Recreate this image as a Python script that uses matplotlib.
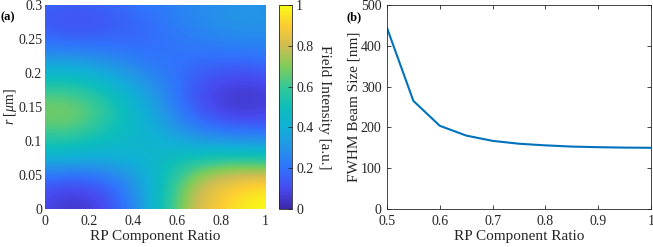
import numpy as np
import matplotlib.pyplot as plt
from matplotlib.colors import LinearSegmentedColormap

plt.rcParams['font.family'] = ['Liberation Serif', 'DejaVu Serif']
plt.rcParams['mathtext.fontset'] = 'custom'
plt.rcParams['mathtext.rm'] = 'Liberation Serif'
plt.rcParams['mathtext.it'] = 'Liberation Serif:italic'

# (a) field intensity at grid points
rp_ratio = [0.0, 0.1, 0.2, 0.3, 0.4, 0.5, 0.6, 0.7, 0.8, 0.9, 1.0]
r_um = [0.0, 0.025, 0.05, 0.075, 0.1, 0.125, 0.15, 0.175, 0.2, 0.225, 0.25, 0.275, 0.3]
# one row per r value, one column per RP ratio
intensity = [
    [0.09, 0.05, 0.06, 0.12, 0.25, 0.45, 0.66, 0.83, 0.90, 0.97, 1.00],
    [0.11, 0.08, 0.09, 0.15, 0.27, 0.45, 0.64, 0.81, 0.88, 0.94, 0.97],
    [0.21, 0.20, 0.20, 0.25, 0.33, 0.45, 0.58, 0.72, 0.78, 0.81, 0.81],
    [0.41, 0.41, 0.39, 0.40, 0.42, 0.45, 0.50, 0.52, 0.55, 0.55, 0.54],
    [0.55, 0.55, 0.51, 0.47, 0.44, 0.42, 0.38, 0.33, 0.31, 0.30, 0.29],
    [0.66, 0.67, 0.62, 0.54, 0.46, 0.38, 0.28, 0.20, 0.15, 0.13, 0.13],
    [0.69, 0.68, 0.64, 0.55, 0.44, 0.34, 0.22, 0.12, 0.07, 0.05, 0.07],
    [0.59, 0.59, 0.55, 0.47, 0.38, 0.30, 0.20, 0.12, 0.08, 0.06, 0.08],
    [0.44, 0.44, 0.41, 0.36, 0.30, 0.24, 0.20, 0.15, 0.13, 0.12, 0.14],
    [0.29, 0.28, 0.27, 0.25, 0.22, 0.20, 0.20, 0.20, 0.20, 0.20, 0.22],
    [0.18, 0.16, 0.16, 0.17, 0.17, 0.19, 0.22, 0.24, 0.26, 0.27, 0.27],
    [0.14, 0.12, 0.12, 0.14, 0.17, 0.20, 0.24, 0.27, 0.30, 0.31, 0.30],
    [0.17, 0.15, 0.16, 0.17, 0.20, 0.22, 0.25, 0.27, 0.29, 0.30, 0.30],
]

# (b) FWHM beam size
fwhm_ratio = [0.5, 0.55, 0.6, 0.65, 0.7, 0.75, 0.8, 0.85, 0.9, 0.95, 1.0]
fwhm_nm = [444, 265, 204, 180, 167, 160, 156, 153, 151.5, 150.5, 150]

parula = LinearSegmentedColormap.from_list('parula', [
    (0.2422, 0.1504, 0.6603), (0.2800, 0.2900, 0.9400), (0.1900, 0.4500, 0.9900),
    (0.1400, 0.5800, 0.9100), (0.0650, 0.6900, 0.8400), (0.0500, 0.7450, 0.7300),
    (0.2100, 0.7850, 0.5900), (0.5000, 0.8000, 0.3500), (0.8100, 0.7400, 0.3200),
    (0.9900, 0.8000, 0.2000), (0.9769, 0.9839, 0.0805)])

dark = (0.15, 0.15, 0.15)
fig = plt.figure(figsize=(6.53, 2.47), dpi=100)

ax1 = fig.add_axes([0.0689, 0.1538, 0.337, 0.826])
dx = (rp_ratio[1] - rp_ratio[0]) / 2
dy = (r_um[1] - r_um[0]) / 2
im = ax1.imshow(np.array(intensity), origin='lower', aspect='auto', cmap=parula,
                vmin=0, vmax=1, interpolation='bicubic',
                extent=[rp_ratio[0] - dx, rp_ratio[-1] + dx, r_um[0] - dy, r_um[-1] + dy])
ax1.set_xlim(0, 1)
ax1.set_ylim(0, 0.3)
ax1.set_xticks([0, 0.2, 0.4, 0.6, 0.8, 1])
ax1.set_xticklabels(['0', '0.2', '0.4', '0.6', '0.8', '1'])
ax1.set_yticks([0, 0.05, 0.1, 0.15, 0.2, 0.25, 0.3])
ax1.set_yticklabels(['0', '0.05', '0.1', '0.15', '0.2', '0.25', '0.3'])
ax1.tick_params(axis='x', length=0, labelsize=10, colors=dark, pad=4)
ax1.tick_params(axis='y', length=0, labelsize=10, colors=dark, pad=2)
for s in ax1.spines.values():
    s.set_visible(False)
ax1.set_xlabel('RP Component Ratio', fontsize=11, color=dark, labelpad=2)
ax1.set_ylabel(r'$r$ [$\mu$m]', fontsize=10, color=dark)
ax1.yaxis.set_label_coords(-0.12, 0.5)
ax1.text(-0.2, 0.94, '(a)', transform=ax1.transAxes, fontsize=9,
         fontweight='bold', color='black', ha='left', va='center')

cax = fig.add_axes([0.4273, 0.1538, 0.0199, 0.826])
cb = fig.colorbar(im, cax=cax)
cb.set_ticks([0, 0.2, 0.4, 0.6, 0.8, 1])
cb.set_ticklabels(['0', '0.2', '0.4', '0.6', '0.8', '1'])
cax.tick_params(direction='in', length=3, width=0.6, labelsize=10, colors=dark, pad=3)
cb.outline.set_edgecolor(dark)
cb.outline.set_linewidth(0.6)
cb.set_label('Field Intensity [a.u.]', fontsize=11, color=dark, rotation=270, labelpad=13)

ax2 = fig.add_axes([0.5926, 0.1538, 0.4043, 0.826])
ax2.plot(fwhm_ratio, fwhm_nm, color=(0, 0.447, 0.741), lw=1.5)
ax2.set_xlim(0.5, 1)
ax2.set_ylim(0, 500)
ax2.set_xticks([0.5, 0.6, 0.7, 0.8, 0.9, 1])
ax2.set_xticklabels(['0.5', '0.6', '0.7', '0.8', '0.9', '1'])
ax2.set_yticks([0, 100, 200, 300, 400, 500])
ax2.tick_params(direction='in', length=3, width=0.6, labelsize=10, colors=dark,
                top=True, right=True, pad=4)
for s in ax2.spines.values():
    s.set_color(dark)
    s.set_linewidth(0.6)
ax2.set_xlabel('RP Component Ratio', fontsize=11, color=dark, labelpad=2)
ax2.set_ylabel('FWHM Beam Size [nm]', fontsize=11, color=dark)
ax2.yaxis.set_label_coords(-0.102, 0.5)
ax2.text(-0.152, 0.94, '(b)', transform=ax2.transAxes, fontsize=9,
         fontweight='bold', color='black', ha='left', va='center')

fig.savefig('out.png', dpi=100)
